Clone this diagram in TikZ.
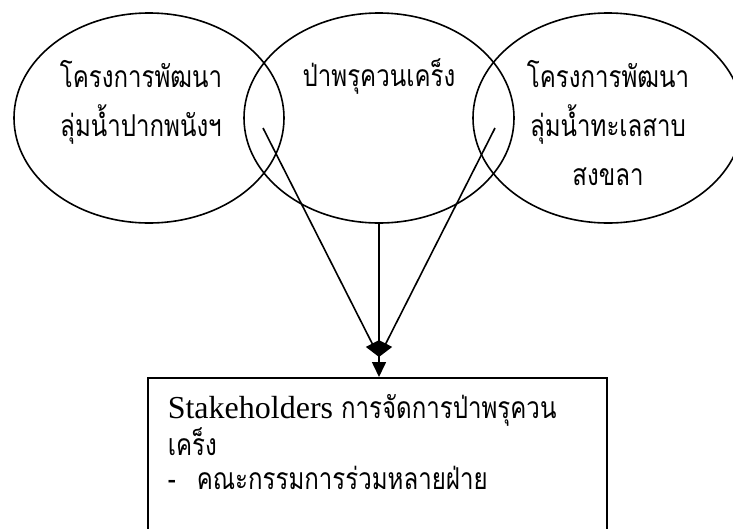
\documentclass[tikz,border=0pt]{standalone}
\usepackage{fontspec}
\setmainfont{Liberation Serif}
\newfontfamily\thaifont[Script=Thai,FakeStretch=0.8,Scale=0.94]{Loma}
\usetikzlibrary{positioning,arrows.meta,shapes.geometric}
\tikzset{>={Triangle[length=15pt,width=14pt]}}

\begin{document}
\begin{tikzpicture}[x=1pt,y=-1pt,line width=1.6pt]
        \tikzset{
        bubble/.style={ellipse, draw, minimum width=270pt, minimum height=210pt, inner sep=0pt},
        thai/.style={font=\fontsize{32}{49}\selectfont\thaifont, inner sep=0pt, align=center, anchor=base},
        boxtext/.style={font=\fontsize{32}{33.5}\selectfont, inner sep=0pt, align=left, anchor=base west},
        }

        \useasboundingbox (0,0) rectangle (733,528);
        \clip (0,0) rectangle (733,528);

        % Bubbles (text anchored at the baseline of the last line).
        \node[bubble] (pak)      at (149,118) {};
        \node[bubble] (kreng)    at (379,118) {};
        \node[bubble] (songkhla) at (608,118) {};

        \node[thai] (paktext)      at (141,136) {โครงการพัฒนา\\ลุ่มน้ำปากพนังฯ};
        \node[thai] (krengtext)    at (379,86)  {ป่าพรุควนเคร็ง};
        \node[thai] (songkhlatext) at (608,185) {โครงการพัฒนา\\ลุ่มน้ำทะเลสาบ\\สงขลา};

        % Stakeholders box.
        \node[draw, rectangle, minimum width=459pt, minimum height=200pt, anchor=north] (stake) at (377.5,377) {};
        \node[boxtext] (staketext) at (167,489)
          {Stakeholders {\thaifont การจัดการป่าพรุควน}\\
           {\thaifont เคร็ง}\\
           {\thaifont -\hspace*{21pt}คณะกรรมการร่วมหลายฝ่าย}};

        % Links.
        \coordinate (pakend)      at (263,128);
        \coordinate (songkhlaend) at (495,128);
        \coordinate (meet)        at (379,357);

        \draw[->] (pakend) -- (meet);
        \draw[->] (songkhlaend) -- (meet);
        \draw[->] (kreng.south) -- (kreng.south |- stake.north);
\end{tikzpicture}
\end{document}
